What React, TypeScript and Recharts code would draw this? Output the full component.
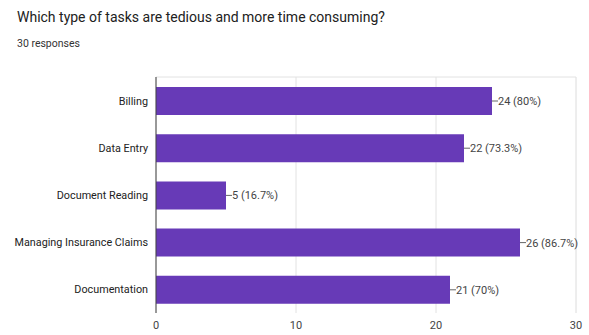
import { BarChart, Bar, XAxis, YAxis, CartesianGrid, LabelList } from 'recharts';

const title = 'Which type of tasks are tedious and more time consuming?';
const responses = 30;
const tasks = ['Billing', 'Data Entry', 'Document Reading', 'Managing Insurance Claims', 'Documentation'];
const counts = [24, 22, 5, 26, 21];
const majorTicks = [0, 10, 20, 30];
const minorTicks = [0, 5, 10, 15, 20, 25, 30];

const data = tasks.map((task, i) => ({ task, count: counts[i] }));

const pct = (n: number) => {
  const p = Math.round((n / responses) * 1000) / 10;
  return `${p}%`;
};

const font = 'Roboto, Arial, sans-serif';

const BarLabel = (props: any) => {
  const { x, y, width, height, value } = props;
  const x0 = x + width;
  const cy = y + height / 2;
  return (
    <g>
      <line x1={x0} y1={cy} x2={x0 + 6} y2={cy} stroke="#666" strokeWidth={1} />
      <text x={x0 + 6} y={cy} dy={4} fontSize={11} fill="#444" fontFamily={font}>
        {`${value} (${pct(value)})`}
      </text>
    </g>
  );
};

const TaskTick = (props: any) => {
  const { x, y, payload } = props;
  return (
    <text x={x} y={y} dy={4} textAnchor="end" fontSize={10.8} fill="#222" fontFamily={font}>
      {payload.value}
    </text>
  );
};

export default function App() {
  return (
    <div style={{ position: 'absolute', left: 0, top: 0, width: 589, height: 335, background: '#fff', fontFamily: font }}>
      <div style={{ position: 'absolute', left: 17, top: 9, fontSize: 14, color: '#212121' }}>{title}</div>
      <div style={{ position: 'absolute', left: 17, top: 37, fontSize: 10.5, color: '#333' }}>{responses} responses</div>
      <BarChart
        width={589}
        height={335}
        data={data}
        layout="vertical"
        margin={{ top: 77, right: 13, bottom: 2, left: 6 }}
        barSize={28}
      >
        <CartesianGrid xAxisId="minor" vertical horizontal={false} stroke="#f2f2f2" />
        <CartesianGrid vertical horizontal horizontalPoints={[77]} stroke="#e2e2e2" />
        <XAxis
          xAxisId="minor"
          type="number"
          domain={[0, 30]}
          ticks={minorTicks}
          hide
        />
        <XAxis
          type="number"
          domain={[0, 30]}
          ticks={majorTicks}
          axisLine={false}
          tickLine={false}
          height={20}
          tick={{ fontSize: 11, fill: '#444', fontFamily: font }}
        />
        <YAxis
          type="category"
          dataKey="task"
          width={150}
          axisLine={{ stroke: '#444' }}
          tickLine={false}
          tick={TaskTick}
        />
        <Bar dataKey="count" fill="#673ab7" isAnimationActive={false}>
          <LabelList dataKey="count" content={BarLabel} />
        </Bar>
      </BarChart>
    </div>
  );
}
